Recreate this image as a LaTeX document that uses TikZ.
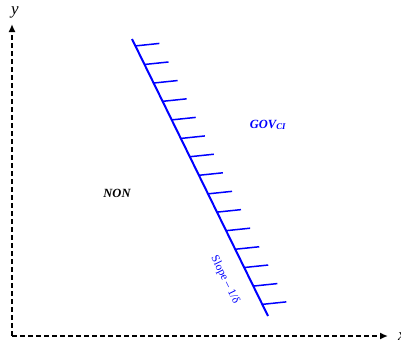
\documentclass[tikz,border=0pt]{standalone}
\usepackage{fontspec}
\setmainfont{Liberation Serif}
\usetikzlibrary{arrows.meta,calc,positioning}
\definecolor{slopeBlue}{HTML}{0000FF}
\begin{document}
\begin{tikzpicture}[x=1pt,y=-1pt,>=Latex,line join=round]
\useasboundingbox (0,0) rectangle (401,343);
\tikzset{axis/.style={draw=black,line width=1.6pt,dash pattern=on 5pt off 3pt,-{Latex[length=8pt,width=7pt]}},budget/.style={draw=slopeBlue,line width=2pt},hatch/.style={draw=slopeBlue,line width=1.5pt},region/.style={font=\bfseries\itshape\fontsize{12.5}{14}\selectfont}}
\coordinate (origin) at (12,336); \coordinate (ytop) at (12,24); \coordinate (xend) at (388,336);
\draw[axis] (origin) -- (ytop); \draw[axis] (origin) -- (xend);
\node[font=\itshape\fontsize{17}{19}\selectfont] (ylab) at (15,12) {y}; \node[font=\itshape\fontsize{17}{19}\selectfont] (xlab) at (402,337) {x};
\coordinate (ltop) at (132,39); \coordinate (lbot) at (268,316);
\draw[budget] (ltop) -- (lbot);
\foreach \t [count=\i] in {0.025,0.092,0.159,0.225,0.292,0.359,0.425,0.492,0.559,0.625,0.692,0.759,0.825,0.892,0.958} {\coordinate (tick\i) at ($(ltop)!\t!(lbot)$); \draw[hatch] (tick\i) -- ++(24,-2.5);}
\node[region] (non) at (117,193) {NON};
\node[region,text=slopeBlue] (gov) at (268,125) {GOV\textsubscript{CI}};
\node[text=slopeBlue,font=\fontsize{11.5}{13}\selectfont,rotate=-63.8] (slope) at (225,280) {Slope – 1/δ};
\end{tikzpicture}
\end{document}
